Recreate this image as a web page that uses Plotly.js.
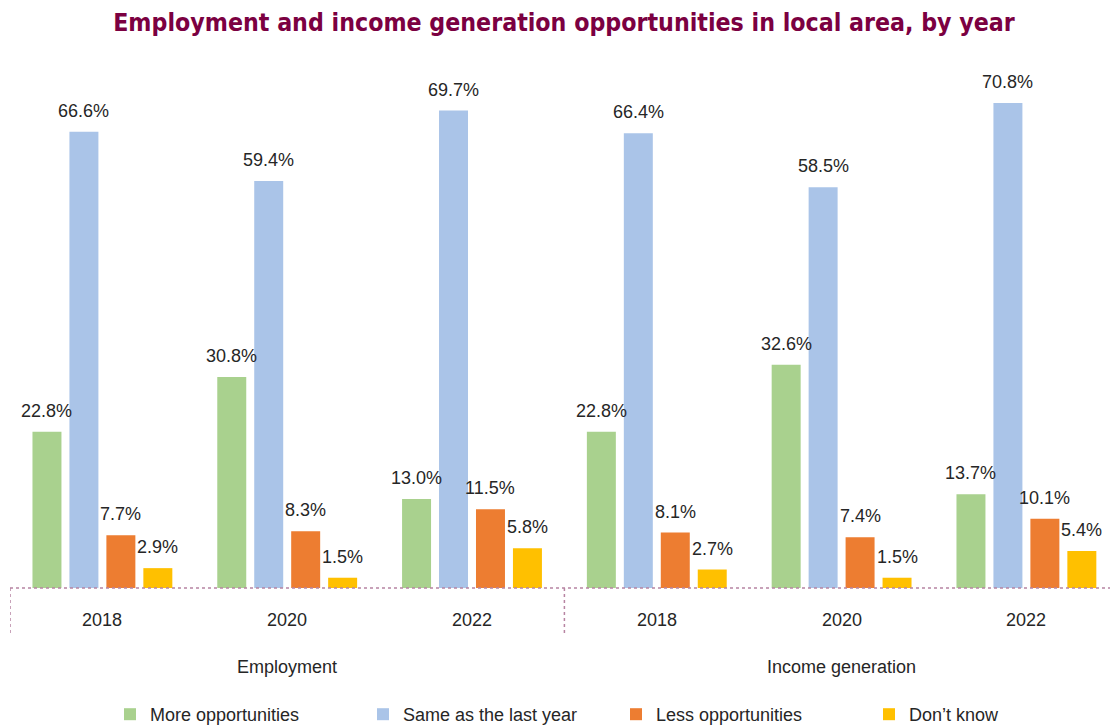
<!DOCTYPE html>
<html>
<head>
<meta charset="utf-8">
<script src="https://cdn.plot.ly/plotly-3.0.1.min.js"></script>
<style>
html,body{margin:0;padding:0;background:#fff;}
#chart{width:1110px;height:726px;}
</style>
</head>
<body>
<div id="chart"></div>
<script>
const groups = ["Employment","Employment","Employment","Income generation","Income generation","Income generation"];
const years = ["2018","2020","2022","2018","2020","2022"];
const groupNames = ["Employment","Income generation"];
const seriesNames = ["More opportunities","Same as the last year","Less opportunities","Don\u2019t know"];
const moreOpp = [22.8, 30.8, 13.0, 22.8, 32.6, 13.7];
const sameAsLast = [66.6, 59.4, 69.7, 66.4, 58.5, 70.8];
const lessOpp = [7.7, 8.3, 11.5, 8.1, 7.4, 10.1];
const dontKnow = [2.9, 1.5, 5.8, 2.7, 1.5, 5.4];
const colors = ["#A9D18E","#AAC4E8","#ED7D31","#FFC000"];

const plotH = 548;
const font = '"Liberation Sans", Arial, sans-serif';
const textColor = '#262626';
const bargap = 0.2;
const vals = [moreOpp, sameAsLast, lessOpp, dontKnow];
const nSeries = vals.length;

const traces = vals.map((v,i)=>({
  type:'bar',
  name: seriesNames[i],
  x:[groups, years],
  y:v,
  marker:{color:colors[i], line:{width:0}},
  hoverinfo:'skip'
}));

const annotations = [];
// value labels, positioned through the axes
vals.forEach((v,j)=>{
  const off = (j - (nSeries-1)/2) * (1-bargap)/nSeries;
  v.forEach((d,i)=>annotations.push({
    text:d.toFixed(1)+'%', xref:'x', yref:'y', x:i+off, y:d, yshift:9,
    showarrow:false, xanchor:'center', yanchor:'bottom',
    font:{family:font, size:18, color:textColor}
  }));
});
years.forEach((y,i)=>annotations.push({text:y, xref:'x', yref:'paper', x:i,
  y:-32/plotH, showarrow:false, xanchor:'center', yanchor:'middle', font:{family:font, size:18, color:textColor}}));
groupNames.forEach((g,i)=>annotations.push({text:g, xref:'x', yref:'paper', x:(years.length/groupNames.length)*(i+0.5)-0.5,
  y:-79/plotH, showarrow:false, xanchor:'center', yanchor:'middle', font:{family:font, size:18, color:textColor}}));

const dot = {color:'#B784A2', width:1.5, dash:'dot'};
const layout = {
  width:1110, height:726,
  margin:{l:10, r:0, t:40, b:138, autoexpand:false},
  paper_bgcolor:'#fff', plot_bgcolor:'#fff',
  title:{text:'<b>Employment and income generation opportunities in local area, by year</b>',
    font:{family:'DejaVu Sans Condensed, DejaVu Sans, sans-serif', size:24.7, color:'#7B0041'},
    x:564/1110, xanchor:'center', y:1-22/726, yref:'container', yanchor:'middle'},
  barmode:'group',
  bargap:bargap,
  bargroupgap:0.216,
  showlegend:true,
  legend:{orientation:'h', x:(110-10)/1100, xanchor:'left', y:-108/plotH, yanchor:'top',
    font:{family:font, size:18, color:textColor},
    entrywidth:208, entrywidthmode:'pixels', traceorder:'normal'},
  xaxis:{type:'multicategory', showdividers:false, showline:false, showgrid:false,
    showticklabels:false, ticks:'', range:[-0.5, -0.5 + 1100/184.8]},
  yaxis:{range:[0,80], visible:false, showgrid:false, zeroline:false},
  annotations:annotations,
  shapes:[
    {type:'line', xref:'paper', yref:'paper', x0:0, x1:1, y0:0, y1:0, line:dot},
    {type:'line', xref:'x', yref:'paper', x0:-0.5, x1:-0.5, y0:0, y1:-47/plotH, line:dot},
    {type:'line', xref:'x', yref:'paper', x0:2.5, x1:2.5, y0:0, y1:-47/plotH, line:dot}
  ]
};
Plotly.newPlot('chart', traces, layout, {displayModeBar:false, staticPlot:true});
</script>
</body>
</html>
